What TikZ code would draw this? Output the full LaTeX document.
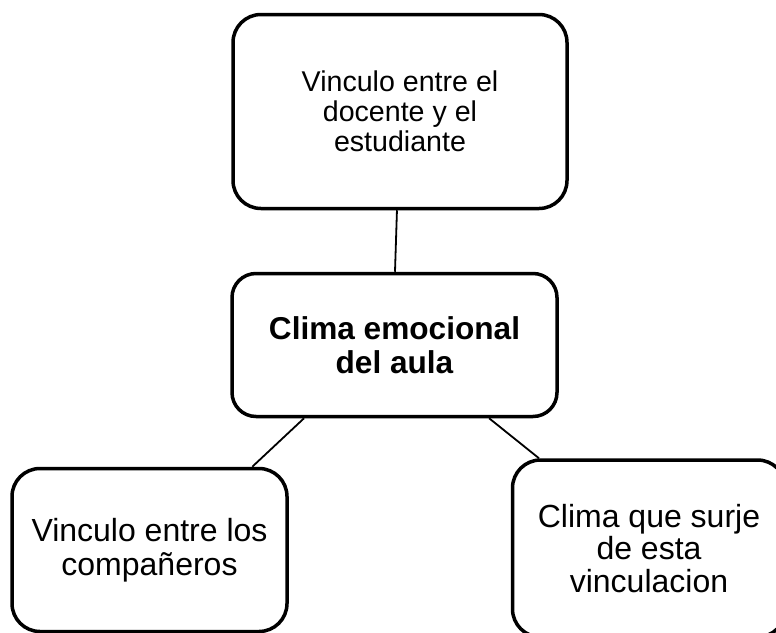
\documentclass[tikz,border=0pt]{standalone}
\usepackage{fontspec}
\setmainfont{Liberation Sans}
\usetikzlibrary{calc}
\tikzset{
  box/.style={draw=black, line width=3.5pt, rounded corners=28pt, inner sep=0pt, align=center,
    font=\fontsize{32}{32.5}\selectfont},
  leftbox/.style={box, font=\fontsize{32}{34.5}\selectfont},
  topbox/.style={box, font=\fontsize{28.6}{30}\selectfont},
  boldbox/.style={box, rounded corners=24pt, font=\bfseries\fontsize{31.6}{34}\selectfont},
  link/.style={draw=black, line width=1.8pt}
}
\begin{document}
\begin{tikzpicture}[x=1pt,y=-1pt]
\useasboundingbox (0,0) rectangle (776,632);
\clip (0,0) rectangle (776,632);
\node[topbox, minimum width=334pt, minimum height=194pt] (top) at (400,111.5)
  {Vinculo entre el\\docente y el\\estudiante};
\node[boldbox, minimum width=325pt, minimum height=143pt] (mid) at (394.5,345)
  {Clima emocional\\del aula};
\node[leftbox, minimum width=275pt, minimum height=163pt] (left) at (149.5,550)
  {Vinculo entre los\\compañeros};
\node[box, minimum width=273pt, minimum height=177pt] (right) at (649,548.5)
  {Clima que surje\\de esta\\vinculacion};
\draw[link] ($(top.south west)!0.491!(top.south east)$) -- ($(mid.north west)!0.5015!(mid.north east)$);
\draw[link] ($(mid.south west)!0.2246!(mid.south east)$) -- ($(left.north west)!0.869!(left.north east)$);
\draw[link] ($(mid.south west)!0.788!(mid.south east)$) -- ($(right.north west)!0.102!(right.north east)$);
\end{tikzpicture}
\end{document}
